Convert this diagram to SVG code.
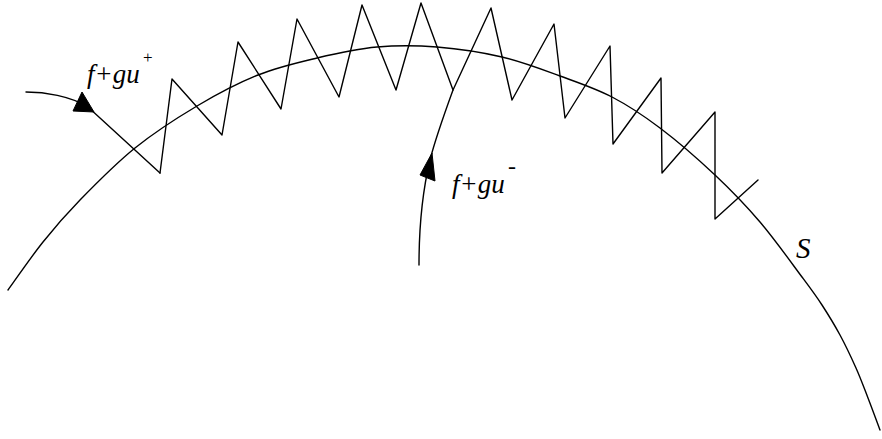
<svg xmlns="http://www.w3.org/2000/svg" width="882" height="439" viewBox="0 0 882 439">
<style>
.ln{fill:none;stroke:#000;stroke-width:1.4;stroke-linejoin:round;stroke-linecap:round}
.ah{fill:#000;stroke:#000;stroke-width:1}
.lb{font-family:"Liberation Serif","Times New Roman",serif;font-style:italic;fill:#000}
.sup{font-family:"Liberation Serif","Times New Roman",serif;fill:#000}
</style>
<rect width="882" height="439" fill="#fff"/>
<g id="surface-S">
<path class="ln" d="M8,290 C13.8,282 31,257 43,242 C55,227 64.7,215.7 80,200 C95.3,184.3 115.5,163.7 135,148 C154.5,132.3 176.5,118.2 197,106 C217.5,93.8 238,83 258,75 C278,67 297.2,62.7 317,58 C336.8,53.3 357,48.8 377,47 C397,45.2 416.2,45.3 437,47 C457.8,48.7 481.5,52.2 502,57 C522.5,61.8 541.7,69.3 560,76 C578.3,82.7 595.3,88.3 612,97 C628.7,105.7 642.8,115 660,128 C677.2,141 698.3,159.3 715,175 C731.7,190.7 745.5,205 760,222 C774.5,239 791.7,263.2 802,277 C812.3,290.8 815.7,295.3 822,305 C828.3,314.7 834.3,324.5 840,335 C845.7,345.5 851.3,357.5 856,368 C860.7,378.5 864,387.7 868,398 C872,408.3 878,424.7 880,430"/>
</g>
<g id="zigzag">
<polyline class="ln" points="160,173 172,79 222,135 238,42 281,109 297,19 339,97 362,5 396,90 421,3 453,90 491,8 512,100 554,24 565,118 610,46 613,144 661,78 662,173 715,112 715,219 758,180"/>
</g>
<g id="connectors">
<path class="ln" d="M26,92 C45,92 70,96 88,107 L160,173"/>
<polygon class="ah" points="82,92 73,111 94,112"/>
<path class="ln" d="M453,90 C445,112 435,140 430,160 C424,185 419,220 419,265"/>
<polygon class="ah" points="432,153 420,175 435,181"/>
</g>
<g id="label-plus">
<text class="lb" x="87" y="83" font-size="27">f+gu</text>
<text class="sup" x="143" y="63" font-size="17">+</text>
</g>
<g id="label-minus">
<text class="lb" x="452" y="193" font-size="27">f+gu</text>
<text class="sup" x="508" y="174" font-size="24">-</text>
</g>
<g id="label-S">
<text class="lb" x="796" y="258" font-size="29">S</text>
</g>
</svg>
